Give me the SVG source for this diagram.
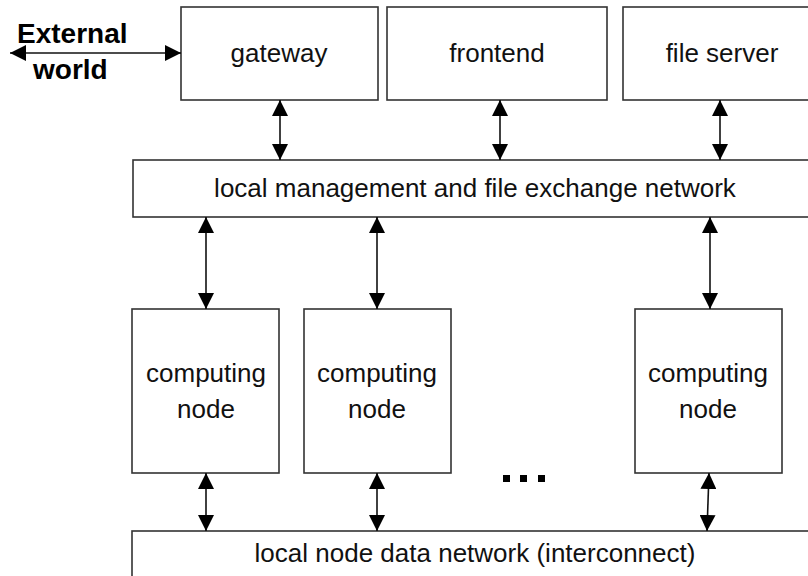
<svg xmlns="http://www.w3.org/2000/svg" width="808" height="576" viewBox="0 0 808 576">
<style>
.box{fill:#fff;stroke:#333;stroke-width:1.6}
.t{font-family:"Liberation Sans",Arial,sans-serif;font-size:26px;fill:#111;text-anchor:middle}
.b{font-family:"Liberation Sans",Arial,sans-serif;font-size:28px;font-weight:bold;fill:#000}
.c{stroke:#111;stroke-width:1.6;fill:none;marker-start:url(#ah);marker-end:url(#ah)}
</style>
<defs>
<marker id="ah" markerUnits="userSpaceOnUse" markerWidth="16" markerHeight="16" viewBox="0 0 16 16" refX="16" refY="8" orient="auto-start-reverse">
<path d="M0,0 L16,8 L0,16 z" fill="#000"/>
</marker>
</defs>
<rect width="808" height="576" fill="#fff"/>
<g id="external">
<text class="b" x="17" y="43">External</text>
<text class="b" x="33" y="79">world</text>
</g>
<g id="gateway"><rect class="box" x="181" y="7" width="197" height="93"/><text class="t" x="279" y="62">gateway</text></g>
<g id="frontend"><rect class="box" x="387" y="7" width="220" height="93"/><text class="t" x="497" y="62">frontend</text></g>
<g id="fileserver"><rect class="box" x="623" y="7" width="200" height="93"/><text class="t" x="722" y="62">file server</text></g>
<g id="mgmt"><rect class="box" x="133" y="160" width="690" height="57"/><text class="t" x="475" y="197">local management and file exchange network</text></g>
<g id="node1"><rect class="box" x="132" y="309" width="147" height="164"/><text class="t" x="206" y="382">computing</text><text class="t" x="206" y="418">node</text></g>
<g id="node2"><rect class="box" x="304" y="309" width="147" height="164"/><text class="t" x="377" y="382">computing</text><text class="t" x="377" y="418">node</text></g>
<g id="node3"><rect class="box" x="635" y="309" width="147" height="164"/><text class="t" x="708" y="382">computing</text><text class="t" x="708" y="418">node</text></g>
<g id="dots" fill="#000"><rect x="503" y="475" width="7" height="7"/><rect x="520" y="475" width="7" height="7"/><rect x="538" y="475" width="7" height="7"/></g>
<g id="interconnect"><rect class="box" x="132" y="531" width="690" height="60"/><text class="t" x="475" y="562">local node data network (interconnect)</text></g>
<g id="connectors">
<line class="c" x1="10" y1="53" x2="181" y2="53"/>
<line class="c" x1="280" y1="100" x2="280" y2="160"/>
<line class="c" x1="500" y1="100" x2="500" y2="160"/>
<line class="c" x1="720" y1="100" x2="720" y2="160"/>
<line class="c" x1="206" y1="217" x2="206" y2="309"/>
<line class="c" x1="377" y1="217" x2="377" y2="309"/>
<line class="c" x1="710" y1="217" x2="710" y2="309"/>
<line class="c" x1="206" y1="473" x2="206" y2="531"/>
<line class="c" x1="377" y1="473" x2="377" y2="531"/>
<line class="c" x1="709" y1="473" x2="707" y2="531"/>
</g>
</svg>
